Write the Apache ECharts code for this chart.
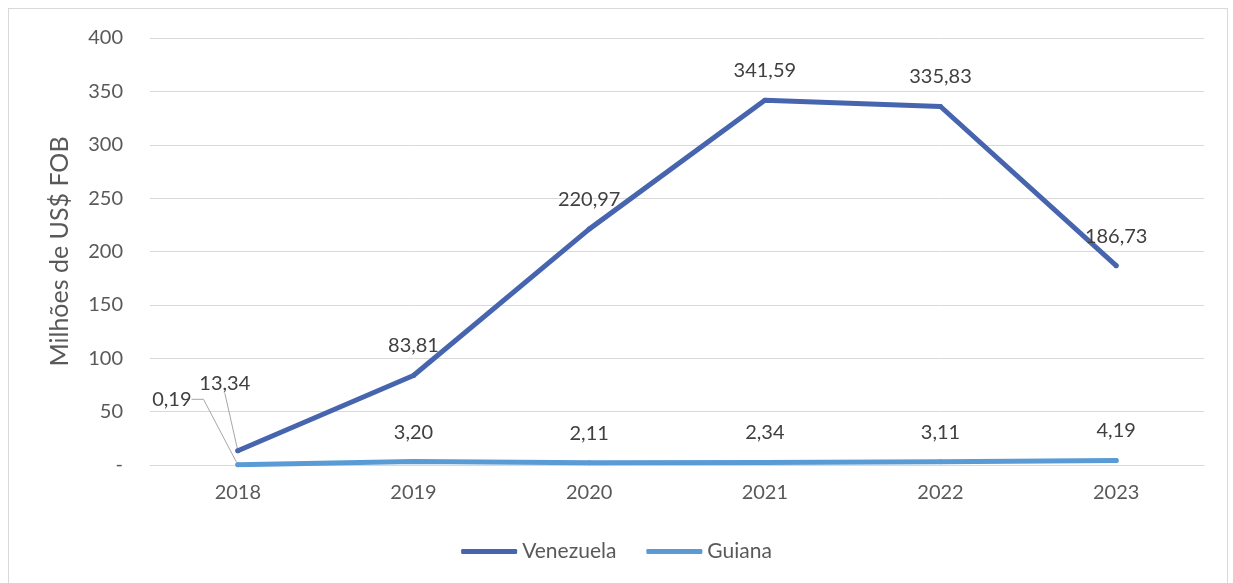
<!DOCTYPE html>
<html>
<head>
<meta charset="utf-8">
<script src="https://cdn.jsdelivr.net/npm/echarts@6/dist/echarts.min.js"></script>
<style>
  html, body { margin: 0; padding: 0; background: #fff; }
  #frame { position: absolute; left: 8px; top: 8px; width: 1218px; height: 590px; border: 1px solid #d9d9d9; }
  #main { position: absolute; left: 0; top: 0; width: 1233px; height: 583px; }
</style>
</head>
<body>
<div id="frame"></div>
<div id="main"></div>
<script>
const years = ['2018', '2019', '2020', '2021', '2022', '2023'];
const venezuela = [13.34, 83.81, 220.97, 341.59, 335.83, 186.73];
const guiana = [0.19, 3.20, 2.11, 2.34, 3.11, 4.19];

const font = 'Lato, "Noto Sans", sans-serif';
const fmt = (p) => p.value.toFixed(2).replace('.', ',');

// first point of each series has its label pushed away with a leader line
const withLeader = (arr) => arr.map((v, i) => i === 0 ? { value: v, labelLine: { show: true } } : v);

const option = {
  animation: false,
  textStyle: { fontFamily: font },
  grid: { left: 150, right: 29, top: 38, bottom: 118 },
  legend: {
    top: 536,
    left: 'center',
    icon: 'roundRect',
    itemWidth: 56,
    itemHeight: 5,
    itemGap: 30,
    textStyle: { fontSize: 21, color: '#595959', fontFamily: font },
    data: ['Venezuela', 'Guiana']
  },
  xAxis: {
    type: 'category',
    data: years,
    boundaryGap: true,
    axisLine: { lineStyle: { color: '#d9d9d9' } },
    axisTick: { show: false },
    axisLabel: { color: '#595959', fontSize: 20, margin: 18 }
  },
  yAxis: {
    type: 'value',
    min: 0,
    max: 400,
    interval: 50,
    name: 'Milhões de US$ FOB',
    nameLocation: 'middle',
    nameGap: 78,
    nameTextStyle: { fontSize: 25, color: '#595959' },
    axisLine: { show: false },
    axisTick: { show: false },
    axisLabel: {
      color: '#595959',
      fontSize: 20,
      margin: 27,
      formatter: (v) => v === 0 ? '-' : String(v)
    },
    splitLine: { lineStyle: { color: '#d9d9d9', width: 1 } }
  },
  series: [
    {
      name: 'Venezuela',
      type: 'line',
      data: withLeader(venezuela),
      symbol: 'circle',
      symbolSize: 5,
      color: '#4764AE',
      lineStyle: { width: 5, cap: 'round', join: 'round' },
      label: { show: true, position: 'top', distance: 17, fontSize: 20, color: '#404040', formatter: fmt },
      labelLine: { show: false, lineStyle: { color: '#a6a6a6', width: 1 } },
      labelLayout: (p) => p.dataIndex === 0 ? { dx: -13, dy: -38 } : {},
      z: 3
    },
    {
      name: 'Guiana',
      type: 'line',
      data: withLeader(guiana),
      symbol: 'circle',
      symbolSize: 5,
      color: '#5B9BD5',
      lineStyle: { width: 5, cap: 'round', join: 'round' },
      label: { show: true, position: 'top', distance: 17, fontSize: 20, color: '#404040', formatter: fmt },
      labelLine: { show: false, length2: 12, lineStyle: { color: '#a6a6a6', width: 1 } },
      labelLayout: (p) => p.dataIndex === 0 ? { dx: -66, dy: -36 } : {},
      z: 2
    }
  ]
};

echarts.init(document.getElementById('main')).setOption(option);
</script>
</body>
</html>
